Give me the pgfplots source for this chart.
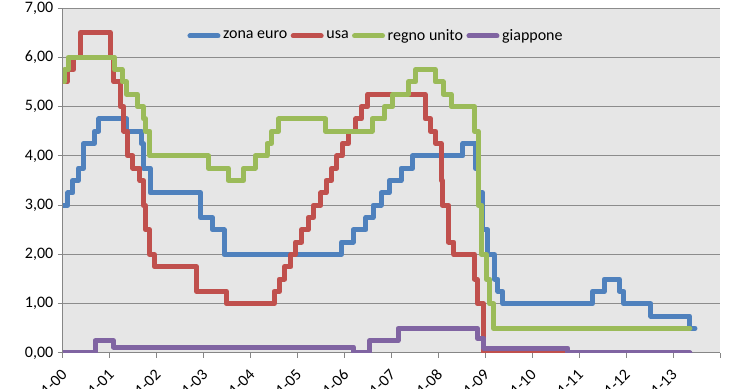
\documentclass[border=0pt]{standalone}
\usepackage{pgfplots}
\pgfplotsset{compat=1.18}
\usepackage{fontspec}
\setmainfont{Carlito}
\definecolor{cblue}{HTML}{4F81BD}
\definecolor{cred}{HTML}{C0504D}
\definecolor{cgreen}{HTML}{9BBB59}
\definecolor{cpurple}{HTML}{8064A2}
\definecolor{plotbg}{HTML}{E6E6E6}
\definecolor{gridc}{HTML}{8C8C8C}
\definecolor{axisc}{HTML}{868686}
\begin{document}
\begin{tikzpicture}
\begin{axis}[
 at={(0,0)}, anchor=south west,
 scale only axis, width=492.75pt, height=258.75pt,
 xmin=0, xmax=168, ymin=0, ymax=7,
 axis x line=bottom, axis y line=left,
 axis line style={axisc, line width=0.75pt, -},
 xtick={0,12,...,168},
 xticklabels={01-00,01-01,01-02,01-03,01-04,01-05,01-06,01-07,01-08,01-09,01-10,01-11,01-12,01-13,{}},
 ytick={0,1,...,7},
 yticklabels={{0,00},{1,00},{2,00},{3,00},{4,00},{5,00},{6,00},{7,00}},
 ymajorgrids, grid style={gridc, line width=0.75pt},
 tick align=outside, major tick length=3.75pt,
 tick style={axisc, line width=0.75pt},
 axis background/.style={fill=plotbg},
 font=\fontsize{12}{14}\selectfont,
 xticklabel style={shift={(3.4pt,-8.3pt)}, rotate=45, anchor=east, font=\fontsize{12}{14}\selectfont},
 yticklabel style={font=\fontsize{12}{14}\selectfont},
 legend columns=-1,
 legend style={draw=none, fill=none, at={(0.477,0.919)}, anchor=center,
   font=\fontsize{12}{14}\selectfont, /tikz/every even column/.append style={column sep=0.5pt}},
 legend image code/.code={\draw[#1, line cap=round] (0pt,0pt) -- (21pt,0pt);},
 every axis plot/.append style={line width=3.75pt, const plot, line join=round, line cap=round},
]
\coordinate (bl) at (rel axis cs:0,0);
% zona euro
\addplot[cblue] coordinates {
(0,3.00) (1.27,3.25) (2.53,3.50) (3.90,3.75) (5.27,4.25) (8.00,4.50) (9.17,4.75)
(16.33,4.50) (19.97,4.25) (20.57,3.75) (22.27,3.25) (35.17,2.75) (38.20,2.50)
(41.17,2.00) (71.17,2.25) (74.23,2.50) (77.47,2.75) (79.27,3.00) (81.33,3.25)
(83.40,3.50) (86.43,3.75) (89.40,4.00) (102.27,4.25) (105.47,3.75) (106.37,3.25)
(107.30,2.50) (108.67,2.00) (110.33,1.50) (111.23,1.25) (112.40,1.00) (135.40,1.25)
(138.40,1.50) (142.27,1.25) (143.43,1.00) (150.33,0.75) (160.23,0.50) (161.60,0.50)
};
\addlegendentry{zona euro}
% usa
\addplot[cred] coordinates {
(0,5.50) (1.03,5.75) (2.67,6.00) (4.50,6.50) (12.07,6.00) (13.00,5.50) (14.63,5.00)
(15.57,4.50) (16.47,4.00) (17.87,3.75) (19.67,3.50) (20.53,3.00) (21.03,2.50)
(22.17,2.00) (23.33,1.75) (34.17,1.25) (41.80,1.00) (53.97,1.25) (55.30,1.50)
(56.67,1.75) (58.30,2.00) (59.43,2.25) (61.03,2.50) (62.70,2.75) (64.07,3.00)
(65.97,3.25) (67.27,3.50) (68.63,3.75) (70.00,4.00) (71.40,4.25) (73.00,4.50)
(74.90,4.75) (76.30,5.00) (77.93,5.25) (92.57,4.75) (94.00,4.50) (95.33,4.25)
(96.70,3.50) (96.97,3.00) (98.57,2.25) (99.97,2.00) (105.23,1.50) (105.93,1.00)
(107.50,0.00) (128.40,0.00)
};
\addlegendentry{usa}
% regno unito
\addplot[cgreen] coordinates {
(0,5.50) (0.40,5.75) (1.30,6.00) (13.23,5.75) (15.13,5.50) (16.30,5.25) (19.03,5.00)
(20.57,4.75) (21.10,4.50) (22.23,4.00) (37.17,3.75) (42.30,3.50) (46.17,3.75)
(49.13,4.00) (52.17,4.25) (53.30,4.50) (55.13,4.75) (67.10,4.50) (79.07,4.75)
(82.27,5.00) (84.33,5.25) (88.30,5.50) (90.13,5.75) (95.17,5.50) (97.20,5.25)
(99.30,5.00) (105.23,4.50) (106.17,3.00) (107.10,2.00) (108.23,1.50) (109.13,1.00)
(110.13,0.50) (160.30,0.50)
};
\addlegendentry{regno unito}
% giappone
\addplot[cpurple] coordinates {
(0,0.00) (8.20,0.25) (12.90,0.12) (74.27,0.00) (78.43,0.25) (85.67,0.50)
(106.00,0.30) (107.60,0.10) (129.13,0.00) (160.30,0.00)
};
\addlegendentry{giappone}
\end{axis}
\pgfresetboundingbox
\path[use as bounding box] ([shift={(-47.25pt,-27pt)}]bl) rectangle ([shift={(507.75pt,264.75pt)}]bl);
\end{tikzpicture}
\end{document}
